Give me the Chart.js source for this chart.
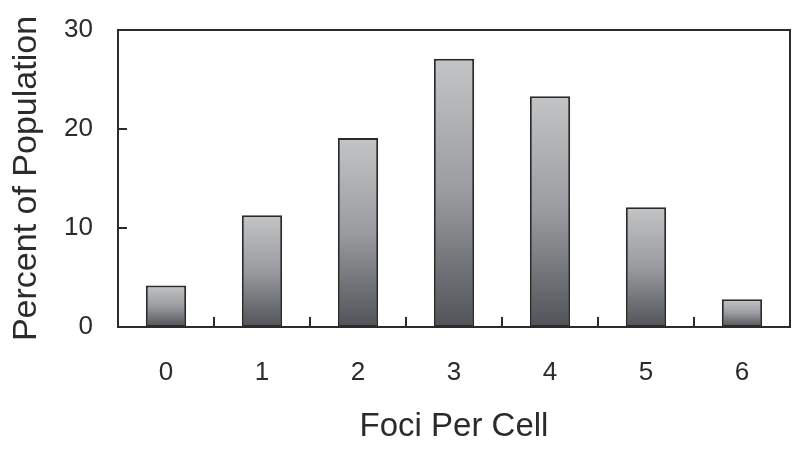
<!DOCTYPE html>
<html>
<head>
<meta charset="utf-8">
<script src="https://cdn.jsdelivr.net/npm/chart.js@4"></script>
<style>
  html, body { margin:0; padding:0; background:#fff; }
  #wrap { width:800px; height:449px; }
</style>
</head>
<body>
<div id="wrap"><canvas id="c"></canvas></div>
<script>
// categorias y valores
const fociLabels = ['0','1','2','3','4','5','6'];
const percentValues = [4.2, 11.3, 19.1, 27.1, 23.3, 12.1, 2.8];
const yTicks = [0, 10, 20, 30];

const FONT = 'Liberation Sans, Arial, sans-serif';
const INK = '#2b2b2b';

// degradado por barra: claro arriba, oscuro abajo
function barFill(ctx){
  const chart = ctx.chart;
  const y = chart.scales.y;
  if(!y || !chart.chartArea) return '#9a9c9f';
  const v = ctx.raw;
  const top = y.getPixelForValue(v);
  const bot = y.getPixelForValue(0);
  if(!isFinite(top) || !isFinite(bot) || top === bot) return '#9a9c9f';
  const g = chart.ctx.createLinearGradient(0, top, 0, bot);
  g.addColorStop(0, '#c3c4c6');
  g.addColorStop(0.5, '#999b9e');
  g.addColorStop(1, '#505458');
  return g;
}

// marco y marcas hacia adentro
const frame = {
  id: 'frame',
  afterDatasetsDraw(chart){
    const {ctx, chartArea:a, scales:{x, y}} = chart;
    ctx.save();
    ctx.strokeStyle = INK;
    ctx.lineWidth = 2;
    ctx.strokeRect(a.left, a.top, a.right - a.left, a.bottom - a.top);
    ctx.beginPath();
    yTicks.forEach(t => {
      const py = y.getPixelForValue(t);
      ctx.moveTo(a.left, py); ctx.lineTo(a.left + 9, py);
    });
    for(let k = 1; k < fociLabels.length; k++){
      const px = (x.getPixelForValue(k-1) + x.getPixelForValue(k)) / 2;
      ctx.moveTo(px, a.bottom); ctx.lineTo(px, a.bottom - 10);
    }
    ctx.stroke();
    ctx.restore();
  }
};

new Chart(document.getElementById('c'), {
  type: 'bar',
  data: {
    labels: fociLabels,
    datasets: [{
      data: percentValues,
      backgroundColor: barFill,
      borderColor: INK,
      borderWidth: 2,
      borderSkipped: false,
      categoryPercentage: 1,
      barPercentage: 0.42
    }]
  },
  options: {
    responsive: true, maintainAspectRatio: false, animation: false,
    layout: { padding: { left: 4, right: 10, top: 30, bottom: 0 } },
    plugins: { legend: { display: false }, tooltip: { enabled: false } },
    scales: {
      x: {
        grid: { display: false, drawTicks: false },
        border: { display: false },
        ticks: { color: INK, font: { family: FONT, size: 26 }, padding: 30 },
        title: { display: true, text: 'Foci Per Cell', color: INK, font: { family: FONT, size: 33 }, padding: { top: 0, bottom: 2 } },
        afterFit: s => { s.height = 122; s.paddingLeft = 0; s.paddingRight = 0; }
      },
      y: {
        min: 0, max: 30,
        afterBuildTicks: s => { s.ticks = yTicks.map(v => ({ value: v })); },
        grid: { display: false, drawTicks: false },
        border: { display: false },
        ticks: { color: INK, font: { family: FONT, size: 26 }, padding: 25 },
        title: { display: true, text: 'Percent of Population', color: INK, font: { family: FONT, size: 34 }, padding: { top: 2, bottom: 0 } },
        afterFit: s => { s.width = 114; s.paddingTop = 0; s.paddingBottom = 0; }
      }
    }
  },
  plugins: [frame]
});
</script>
</body>
</html>
